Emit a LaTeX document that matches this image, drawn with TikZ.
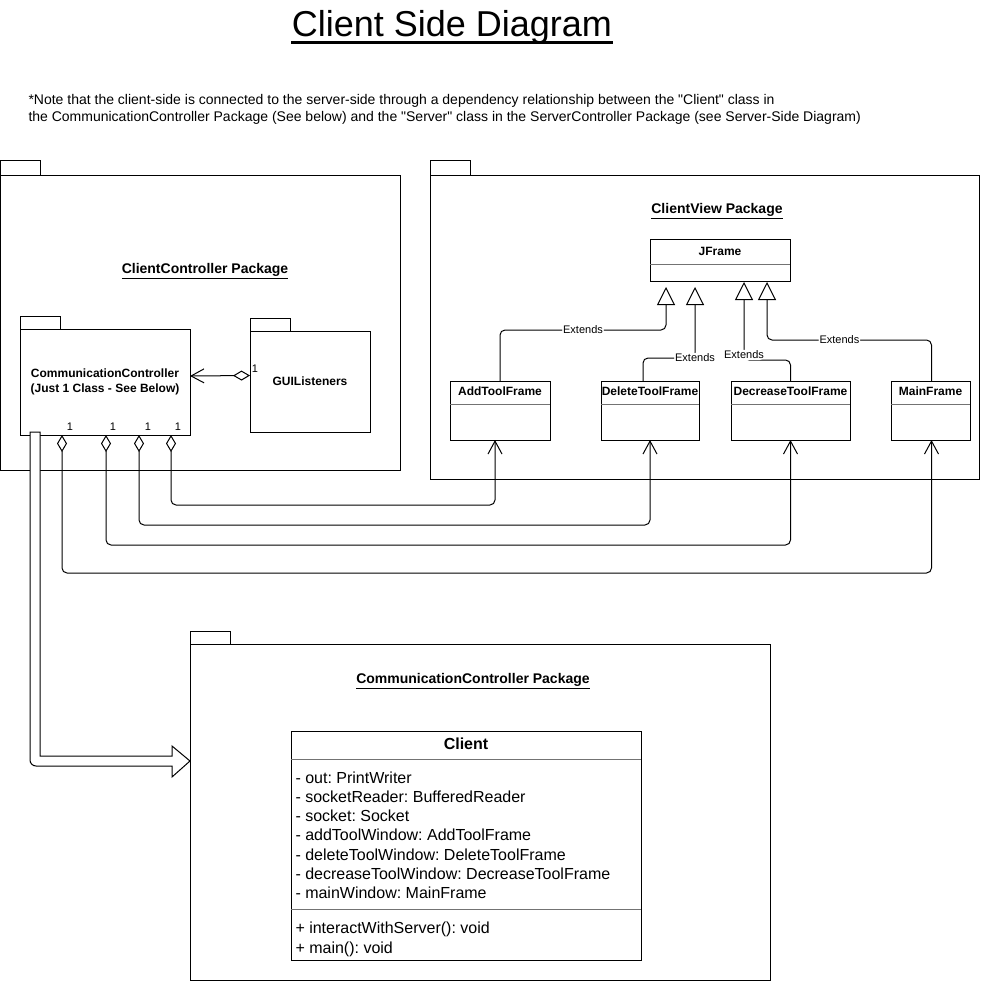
\documentclass[tikz,border=0pt]{standalone}
\usepackage{fontspec}
\setmainfont{Liberation Sans}
\usetikzlibrary{arrows.meta}
\frenchspacing

\tikzset{
  pkgbody/.style={draw, outer sep=0pt, inner sep=0pt, anchor=north west},
  pkgname/.style={font=\fontsize{14}{17}\selectfont\bfseries},
  cls/.style={draw, outer sep=0pt, inner sep=0pt, anchor=north west, minimum height=59},
  clsname/.style={font=\fontsize{12}{14}\selectfont\bfseries},
  divider/.style={black!55},
  extends/.style={-{Triangle[open,length=18pt,width=18pt]}, rounded corners=5pt},
  aggr/.style={{Diamond[open,length=17pt,width=10pt]}-{Straight Barb[length=13pt,width=14pt]}, rounded corners=5pt},
  lbl/.style={font=\fontsize{11}{13}\selectfont, fill=white, inner sep=1pt},
  mult/.style={font=\fontsize{11}{13}\selectfont, inner sep=0pt},
  attr/.style={font=\fontsize{16}{19}\selectfont, inner sep=0pt, anchor=base west},
  note/.style={font=\fontsize{14}{17}\selectfont, inner sep=0pt, anchor=base west}
}

\begin{document}
\begin{tikzpicture}[x=1pt, y=-1pt, line width=1pt]
    \useasboundingbox[fill=white] (0,0) rectangle (982,982);

    % title and note
    \node[font=\fontsize{36}{40}\selectfont, inner sep=0pt, anchor=base] (title) at (452,37) {Client Side Diagram};
    \draw[line width=3pt] ([yshift=-5.5pt]title.base west) -- ([yshift=-5.5pt]title.base east);
    \node[note] (note1) at (28,104) {*Note that the client-side is connected to the server-side through a dependency relationship between the \textquotedbl Client\textquotedbl{} class in};
    \node[note] (note2) at (28,121) {the CommunicationController Package (See below) and the \textquotedbl Server\textquotedbl{} class in the ServerController Package (see Server-Side Diagram)};

    % packages
    \node[pkgbody, minimum width=400, minimum height=295] (ctrlpkg) at (0,175) {};
    \draw (ctrlpkg.north west) rectangle ++(40,-15);
    \node[pkgname] (ctrlpkg-t) at (205,271) {\underline{ClientController Package}};

    \node[pkgbody, minimum width=549, minimum height=304] (viewpkg) at (430,175) {};
    \draw (viewpkg.north west) rectangle ++(40,-15);
    \node[pkgname] (viewpkg-t) at (717,211) {\underline{ClientView Package}};

    \node[pkgbody, minimum width=170, minimum height=106, align=center, font=\fontsize{12}{15}\selectfont\bfseries] (comm) at (20,329) {CommunicationController\\(Just 1 Class - See Below)};
    \draw (comm.north west) rectangle ++(40,-13);

    \node[pkgbody, minimum width=120, minimum height=101, font=\fontsize{12}{15}\selectfont\bfseries] (gui) at (250,331) {GUIListeners};
    \draw (gui.north west) rectangle ++(40,-13);

    \node[pkgbody, minimum width=580, minimum height=336] (cpkg) at (190,644) {};
    \draw (cpkg.north west) rectangle ++(40,-13);
    \node[pkgname] (cpkg-t) at (473,681) {\underline{CommunicationController Package}};

    % classes of the view
    \node[cls, minimum width=140, minimum height=42] (jframe) at (650,239) {};
    \node[clsname] (jframe-t) at ([yshift=-12pt]jframe.north) {JFrame};
    \draw[divider] ([yshift=-25pt]jframe.north west) -- ([yshift=-25pt]jframe.north east);

    \foreach \nm/\x/\w/\txt in {add/450/100/AddToolFrame, del/601/98/DeleteToolFrame,
                                dec/731/119/DecreaseToolFrame, main/891/79/MainFrame} {
      \node[cls, minimum width=\w] (\nm) at (\x,381) {};
      \node[clsname] (\nm-t) at ([yshift=-10pt]\nm.north) {\txt};
      \draw[divider] ([yshift=-23pt]\nm.north west) -- ([yshift=-23pt]\nm.north east);
    }

    % generalisations
    \draw[extends] (add.north) |- ([xshift=-54pt,yshift=-49pt]jframe.south)
        node[lbl, pos=0.75] {Extends} -- ([xshift=-54pt,yshift=-6pt]jframe.south);
    \draw[extends] ([xshift=-7pt]del.north) |- ([xshift=-25pt,yshift=-77pt]jframe.south)
        node[lbl] {Extends} -- ([xshift=-25pt,yshift=-6pt]jframe.south);
    \draw[extends] (dec.north) |- ([xshift=24pt,yshift=-79pt]jframe.south)
        node[lbl, yshift=5pt] {Extends} -- ([xshift=24pt,yshift=-1pt]jframe.south);
    \draw[extends] ([xshift=1pt]main.north) |- ([xshift=47pt,yshift=-59pt]jframe.south)
        node[lbl, pos=0.78] {Extends} -- ([xshift=47pt,yshift=-1pt]jframe.south);

    % aggregations
    \draw[aggr] ([yshift=6pt]gui.west) -- ([yshift=6pt]comm.east);
    \node[mult] (m0) at (255,369) {1};

    \draw[aggr] ([xshift=151pt]comm.south west) -- ++(0,70) -| ([xshift=-5pt]add.south);
    \draw[aggr] ([xshift=119pt]comm.south west) -- ++(0,90) -| (del.south);
    \draw[aggr] ([xshift=86pt]comm.south west) -- ++(0,110) -| (dec.south);
    \draw[aggr] ([xshift=42pt]comm.south west) -- ++(0,138) -| ([xshift=1pt]main.south);
    \foreach \x [count=\i] in {178,148,113,70}
      \node[mult] (m\i) at (\x,427) {1};

    % block arrow into the lower package
    \coordinate (tip) at ([yshift=-117pt]cpkg.north west);
    \draw[fill=white] ([xshift=10pt,yshift=3pt]comm.south west) coordinate (bs)
        [rounded corners=6pt] -- ++(0,334) [sharp corners] -- ++(142,0) -- ++(0,11)
        -- (tip) -- ++(-18,-15) -- ++(0,10) -- ++(-132,0) -- ++(0,-324) -- cycle;

    % the Client class
    \node[cls, minimum width=350, minimum height=229] (client) at (291,731) {};
    \node[font=\fontsize{16}{19}\selectfont\bfseries] (client-t) at ([yshift=-13pt]client.north) {Client};
    \draw[divider] ([yshift=-28pt]client.north west) -- ([yshift=-28pt]client.north east);
    \draw[divider] ([yshift=-178pt]client.north west) -- ([yshift=-178pt]client.north east);
    \foreach \t [count=\i] in {- out: PrintWriter, - socketReader: BufferedReader, - socket: Socket,
        - addToolWindow: AddToolFrame, - deleteToolWindow: DeleteToolFrame,
        - decreaseToolWindow: DecreaseToolFrame, - mainWindow: MainFrame}
      \node[attr] (a\i) at (295,{783+19.3*(\i-1)}) {\t};
    \node[attr] (op1) at (295,933) {+ interactWithServer(): void};
    \node[attr] (op2) at (295,953) {+ main(): void};
\end{tikzpicture}
\end{document}
